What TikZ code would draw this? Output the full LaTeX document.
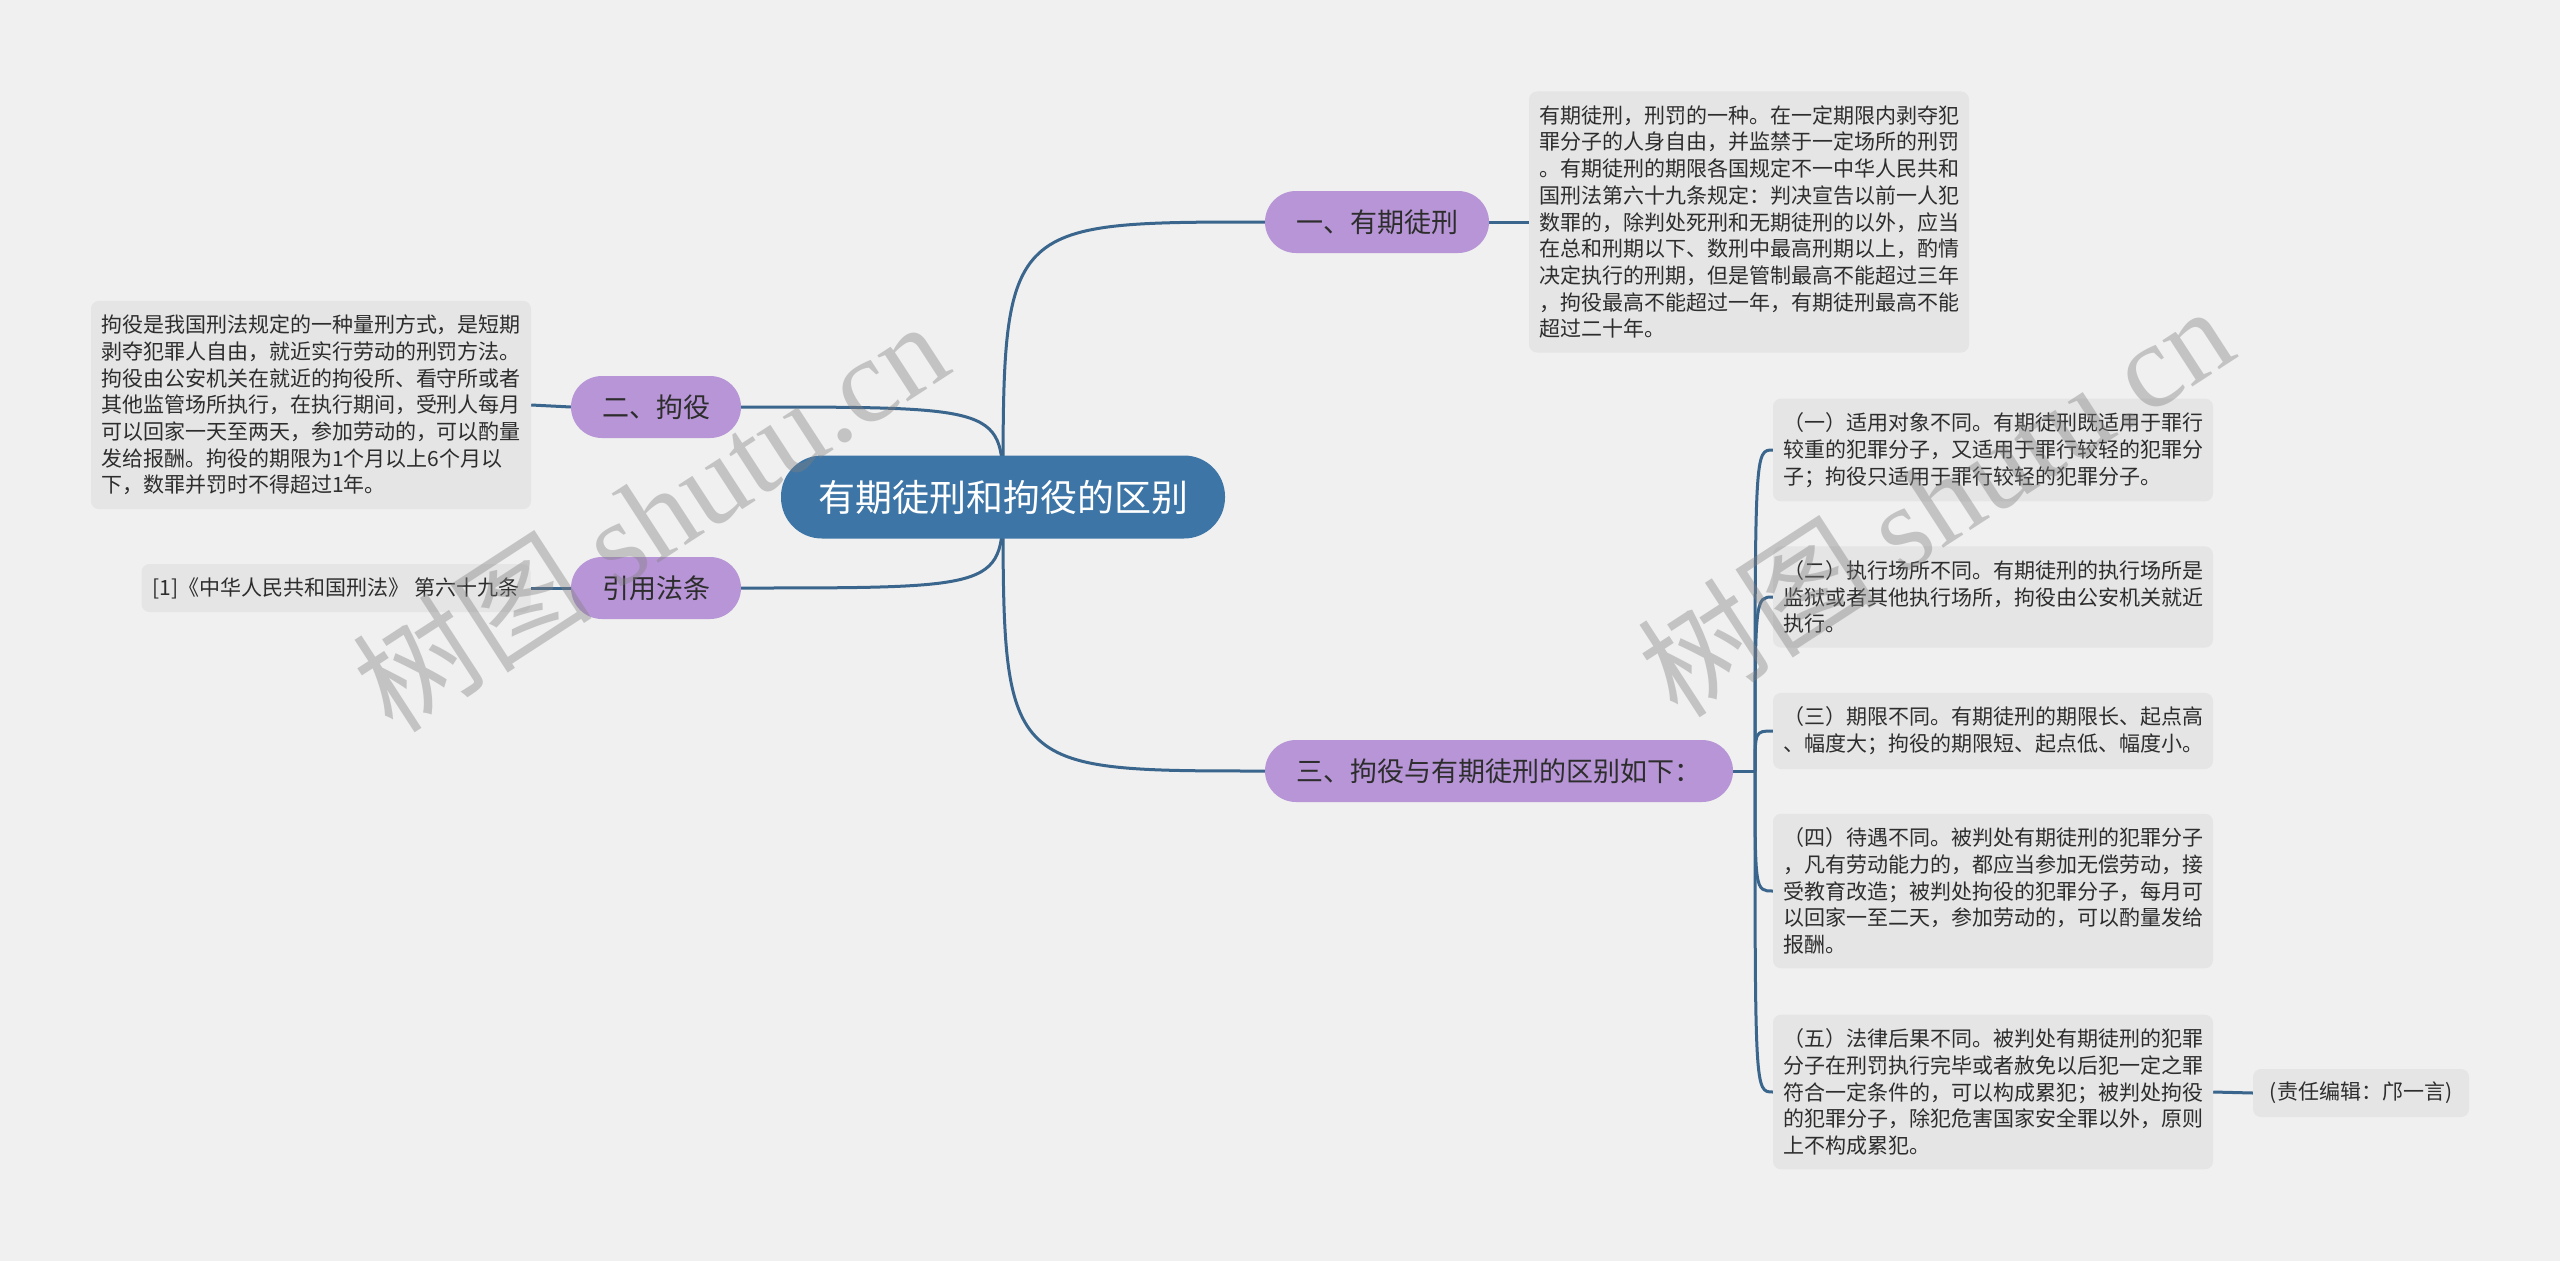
\documentclass[tikz,border=0pt]{standalone}
\usepackage{fontspec}
\setmainfont{Noto Sans CJK SC}
\newfontfamily\wmfont{Liberation Serif}
\usetikzlibrary{positioning,calc}
\definecolor{bgcolor}{RGB}{240,240,240}
\definecolor{rootcolor}{RGB}{61,117,166}
\definecolor{branchcolor}{RGB}{183,149,214}
\definecolor{notecolor}{RGB}{229,229,229}
\definecolor{linecolor}{RGB}{58,101,140}
\definecolor{textcolor}{RGB}{45,45,45}
\pgfdeclarelayer{bg}
\pgfdeclarelayer{edges}
\pgfsetlayers{bg,edges,main}

\begin{document}
\begin{tikzpicture}[
        x=1pt, y=-1pt,
        root/.style={rectangle, rounded corners=41pt, fill=rootcolor, text=white, minimum width=444pt, minimum height=83pt, font=\fontsize{37pt}{44pt}\selectfont},
        branch/.style={rectangle, rounded corners=31pt, fill=branchcolor, text=textcolor, minimum height=62pt, font=\fontsize{27pt}{32pt}\selectfont},
        note/.style={rectangle, rounded corners=8pt, fill=notecolor, text=textcolor, align=left, text width=420pt, inner xsep=10pt, inner ysep=14pt, font=\fontsize{21pt}{26.7pt}\selectfont},
        tag/.style={rectangle, rounded corners=8pt, fill=notecolor, text=textcolor, minimum height=48pt, font=\fontsize{21pt}{26pt}\selectfont},
        link/.style={draw=linecolor, line width=3pt},
        wmark/.style={text=gray, text opacity=0.4, rotate=33, font=\fontsize{120pt}{125pt}\selectfont}
    ]

        % Background
        \begin{pgfonlayer}{bg}
            \fill[bgcolor] (0,0) rectangle (2560,1261);
        \end{pgfonlayer}
        \useasboundingbox (0,0) rectangle (2560,1261);

        % Root
        \node[root] (root) at (1003,497) {有期徒刑和拘役的区别};

        % Branches
        \node[branch, minimum width=224pt] (xing) at (1377,222) {一、有期徒刑};
        \node[branch, minimum width=170pt] (juyi) at (656,407) {二、拘役};
        \node[branch, minimum width=170pt] (fatiao) at (656,588) {引用法条};
        \node[branch, minimum width=468pt] (qubie) at (1499,771) {三、拘役与有期徒刑的区别如下：};

        % Notes
        \node[note] (xingnote) at (1749,222) {有期徒刑，刑罚的一种。在一定期限内剥夺犯\\罪分子的人身自由，并监禁于一定场所的刑罚\\。有期徒刑的期限各国规定不一中华人民共和\\国刑法第六十九条规定：判决宣告以前一人犯\\数罪的，除判处死刑和无期徒刑的以外，应当\\在总和刑期以下、数刑中最高刑期以上，酌情\\决定执行的刑期，但是管制最高不能超过三年\\，拘役最高不能超过一年，有期徒刑最高不能\\超过二十年。};
        \node[note] (juyinote) at (311,405) {拘役是我国刑法规定的一种量刑方式，是短期\\剥夺犯罪人自由，就近实行劳动的刑罚方法。\\拘役由公安机关在就近的拘役所、看守所或者\\其他监管场所执行，在执行期间，受刑人每月\\可以回家一天至两天，参加劳动的，可以酌量\\发给报酬。拘役的期限为1个月以上6个月以\\下，数罪并罚时不得超过1年。};
        \node[tag, minimum width=389pt] (fatiaonote) at (336,588) {[1]《中华人民共和国刑法》 第六十九条};

        % Differences
        \node[note] (d1) at (1993,450) {（一）适用对象不同。有期徒刑既适用于罪行\\较重的犯罪分子，又适用于罪行较轻的犯罪分\\子；拘役只适用于罪行较轻的犯罪分子。};
        \node[note] (d2) at (1993,597) {（二）执行场所不同。有期徒刑的执行场所是\\监狱或者其他执行场所，拘役由公安机关就近\\执行。};
        \node[note] (d3) at (1993,731) {（三）期限不同。有期徒刑的期限长、起点高\\、幅度大；拘役的期限短、起点低、幅度小。};
        \node[note] (d4) at (1993,891) {（四）待遇不同。被判处有期徒刑的犯罪分子\\，凡有劳动能力的，都应当参加无偿劳动，接\\受教育改造；被判处拘役的犯罪分子，每月可\\以回家一至二天，参加劳动的，可以酌量发给\\报酬。};
        \node[note] (d5) at (1993,1092) {（五）法律后果不同。被判处有期徒刑的犯罪\\分子在刑罚执行完毕或者赦免以后犯一定之罪\\符合一定条件的，可以构成累犯；被判处拘役\\的犯罪分子，除犯危害国家安全罪以外，原则\\上不构成累犯。};
        \node[tag, minimum width=216pt] (editor) at (2361,1093) {(责任编辑：邝一言)};

        % Connectors
        \coordinate (fork) at (1755,771);
        \begin{pgfonlayer}{edges}
            \draw[link] (root.center) .. controls (root.center |- xing.west) .. (xing.west);
            \draw[link] (root.center) .. controls (root.center |- qubie.west) .. (qubie.west);
            \draw[link] (root.center) .. controls (root.center |- juyi.east) .. (juyi.east);
            \draw[link] (root.center) .. controls (root.center |- fatiao.east) .. (fatiao.east);
            \draw[link] (xing.east) -- (xingnote.west);
            \draw[link] (juyi.west) -- (juyinote.east);
            \draw[link] (fatiao.west) -- (fatiaonote.east);
            \draw[link] (qubie.east) -- (fork);
            \foreach \d in {d1,d2,d3,d4,d5}
                \draw[link] (fork) .. controls (fork |- \d.west) .. (\d.west);
            \draw[link] (d5.east) -- (editor.west);
        \end{pgfonlayer}

        % Watermark
        \node[wmark] (wm1) at (650,515) {树图 {\wmfont shutu.cn}};
        \node[wmark] (wm2) at (1935,500) {树图 {\wmfont shutu.cn}};

    \end{tikzpicture}
\end{document}
